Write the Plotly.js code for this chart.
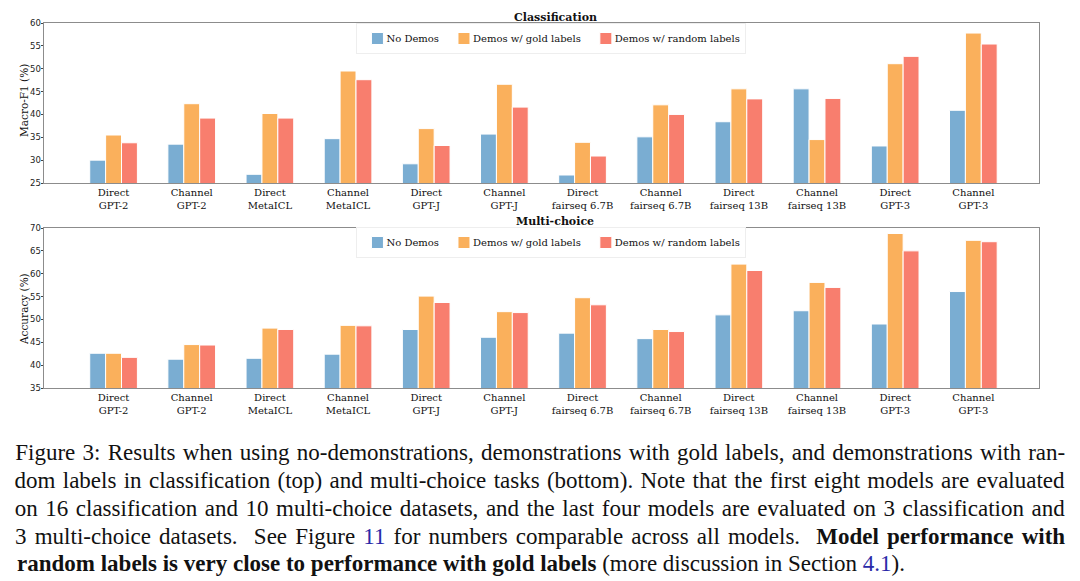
<!DOCTYPE html>
<html>
<head>
<meta charset="utf-8">
<script src="https://cdn.plot.ly/plotly-3.0.1.min.js"></script>
<style>
  html, body { margin: 0; padding: 0; background: #fff; }
  #chart { width: 1080px; height: 581px; }
</style>
</head>
<body>
<div id="chart"></div>
<script>
// ---------- data ----------
const categories = [
  "Direct<br>GPT-2", "Channel<br>GPT-2", "Direct<br>MetaICL", "Channel<br>MetaICL",
  "Direct<br>GPT-J", "Channel<br>GPT-J", "Direct<br>fairseq 6.7B", "Channel<br>fairseq 6.7B",
  "Direct<br>fairseq 13B", "Channel<br>fairseq 13B", "Direct<br>GPT-3", "Channel<br>GPT-3"
];
const seriesNames = ["No Demos", "Demos w/ gold labels", "Demos w/ random labels"];

// Classification (Macro-F1 %)
const clsNoDemos = [30.0, 33.5, 26.9, 34.7, 29.2, 35.7, 26.75, 35.1, 38.4, 45.6, 33.1, 40.9];
const clsGold    = [35.5, 42.35, 40.2, 49.5, 36.9, 46.6, 33.9, 42.1, 45.6, 34.5, 51.1, 57.8];
const clsRandom  = [33.8, 39.2, 39.2, 47.6, 33.2, 41.6, 30.9, 40.0, 43.4, 43.5, 52.7, 55.4];

// Multi-choice (Accuracy %)
const mcNoDemos = [42.6, 41.3, 41.5, 42.4, 47.8, 46.1, 47.0, 45.8, 51.0, 51.9, 49.0, 56.1];
const mcGold    = [42.6, 44.5, 48.1, 48.7, 55.1, 51.7, 54.75, 47.8, 62.1, 58.1, 68.8, 67.3];
const mcRandom  = [41.7, 44.4, 47.8, 48.6, 53.7, 51.5, 53.2, 47.35, 60.7, 57.0, 65.0, 67.0];

const panelTitles = ["Classification", "Multi-choice"];
const yTitles = ["Macro-F1 (%)", "Accuracy (%)"];

const captionLines = [
  "Figure 3: Results when using no-demonstrations, demonstrations with gold labels, and demonstrations with ran-",
  "dom labels in classification (top) and multi-choice tasks (bottom). Note that the first eight models are evaluated",
  "on 16 classification and 10 multi-choice datasets, and the last four models are evaluated on 3 classification and",
  "3 multi-choice datasets.  See Figure <span style=\"color:#2a2aa8\">11</span> for numbers comparable across all models.  <b>Model performance with</b>",
  "<b>random labels is very close to performance with gold labels</b> (more discussion in Section <span style=\"color:#2a2aa8\">4.1</span>)."
];

// ---------- style ----------
const colors = ["#7aadd2", "#fab05c", "#f87e6e"];
const W = 1080, H = 581;
const M = {l: 44, r: 41, t: 23, b: 193};
const plotH = H - M.t - M.b;
const plotW = W - M.l - M.r;
const py = p => 1 - (p - M.t) / plotH;   // pixel row -> paper y
const px = p => (p - M.l) / plotW;       // pixel column -> paper x

function bars(vals, i, xa, ya, legendId) {
  return {
    type: "bar", x: categories, y: vals, name: seriesNames[i],
    xaxis: xa, yaxis: ya, legend: legendId,
    marker: {color: colors[i], line: {color: "#ffffff", width: 1}},
    hoverinfo: "skip"
  };
}

const data = [
  bars(clsNoDemos, 0, "x", "y", "legend"),
  bars(clsGold, 1, "x", "y", "legend"),
  bars(clsRandom, 2, "x", "y", "legend"),
  bars(mcNoDemos, 0, "x2", "y2", "legend2"),
  bars(mcGold, 1, "x2", "y2", "legend2"),
  bars(mcRandom, 2, "x2", "y2", "legend2")
];

const frame = {
  showline: true, mirror: true, linecolor: "#8c8c8c", linewidth: 1,
  showgrid: false, zeroline: false
};
function xAxis(anchor) {
  return Object.assign({}, frame, {
    anchor: anchor, domain: [0, 1], type: "category", range: [-0.89, 11.84],
    ticks: "", tickfont: {family: "DejaVu Serif", size: 10, color: "#111"}
  });
}
function yAxis(anchor, domain, range) {
  return Object.assign({}, frame, {
    anchor: anchor, domain: domain, range: range, dtick: 5,
    ticks: "outside", ticklen: 2.5, tickcolor: "#444", tickwidth: 1,
    ticklabelstandoff: -2,
    tickfont: {family: "DejaVu Sans", size: 8.5, color: "#222"}
  });
}
const legendBase = {
  orientation: "h", xanchor: "center", x: 0.51, yanchor: "top",
  font: {family: "DejaVu Serif", size: 10, color: "#111"},
  bgcolor: "rgba(255,255,255,0.85)", bordercolor: "#eeeeee", borderwidth: 1,
  itemwidth: 30, tracegroupgap: 0
};

const annotations = [];
[[17, 0], [221, 1]].forEach(([row, i]) => {
  annotations.push({text: "<b>" + panelTitles[i] + "</b>", xref: "paper", yref: "paper",
    x: px(555), y: py(row), xanchor: "center", yanchor: "middle", showarrow: false,
    font: {family: "DejaVu Serif", size: 11, color: "#111"}});
});
[[101, 0], [309, 1]].forEach(([row, i]) => {
  annotations.push({text: yTitles[i], xref: "paper", yref: "paper", textangle: -90,
    x: px(24), y: py(row), xanchor: "center", yanchor: "middle", showarrow: false,
    font: {family: "DejaVu Serif", size: 10.5, color: "#111"}});
});
const capRows = [452, 480, 508, 536, 563];
captionLines.forEach((t, i) => {
  const justified = i < 4;
  annotations.push({
    text: t, xref: "paper", yref: "paper",
    x: justified ? px(540) : px(15),
    y: py(capRows[i]), xanchor: justified ? "center" : "left", yanchor: "middle",
    showarrow: false, font: {family: "Liberation Serif", size: 23, color: "#111"}
  });
});

const layout = {
  width: W, height: H, margin: M,
  paper_bgcolor: "#ffffff", plot_bgcolor: "#ffffff",
  barmode: "group", bargap: 0.39, bargroupgap: 0,
  showlegend: true,
  xaxis: xAxis("y"),
  yaxis: yAxis("x", [1 - 160 / plotH, 1], [25, 60]),
  xaxis2: xAxis("y2"),
  yaxis2: yAxis("x2", [0, 160 / plotH], [35, 70]),
  legend: Object.assign({}, legendBase, {y: py(23)}),
  legend2: Object.assign({}, legendBase, {y: py(227)}),
  annotations: annotations
};

function parseT(s) {
  const m = /translate\(\s*([-\d.e]+)[\s,]*([-\d.e]*)\s*\)/.exec(s || "");
  return m ? [parseFloat(m[1]), parseFloat(m[2] || 0)] : null;
}
// remember an element's original attribute the first time, so repeated passes stay idempotent
function orig(el, attr) {
  const key = "data-orig-" + attr;
  if (!el.hasAttribute(key)) el.setAttribute(key, el.getAttribute(attr) || "");
  return el.getAttribute(key);
}

function finish() {
  // justify the first four caption lines to the full text width (15px .. 1065px)
  const plain = captionLines.map(s => s.replace(/<[^>]+>/g, ""));
  document.querySelectorAll(".annotation-text").forEach(el => {
    const tc = el.textContent;
    const idx = plain.indexOf(tc);
    if (idx >= 0 && idx < 4) {
      el.style.wordSpacing = "0px";
      const len = el.getComputedTextLength();
      const spaces = (tc.match(/ /g) || []).length;
      el.style.wordSpacing = ((1050 - len) / spaces) + "px";
    }
  });
  // tighten legends: smaller gap between swatch and label (matplotlib-like)
  const cut = 11;
  document.querySelectorAll("g.legend, g.legend2").forEach(lg => {
    const traces = lg.querySelectorAll("g.traces");
    if (!traces.length) return;
    traces.forEach((tr, i) => {
      tr.querySelectorAll("text").forEach(t => t.setAttribute("transform", "translate(" + (-cut) + ",0)"));
      const p = parseT(orig(tr, "transform"));
      if (p) tr.setAttribute("transform", "translate(" + (p[0] - cut * i) + "," + p[1] + ")");
    });
    const total = cut * traces.length;
    const bg = lg.querySelector("rect.bg");
    if (bg) {
      const w = parseFloat(orig(bg, "width"));
      if (!isNaN(w)) bg.setAttribute("width", w - total);
    }
    const p = parseT(orig(lg, "transform"));
    if (p) lg.setAttribute("transform", "translate(" + (p[0] + total / 2) + "," + p[1] + ")");
  });
}

Plotly.newPlot("chart", data, layout, {displayModeBar: false, staticPlot: true}).then(() => {
  finish();
  setTimeout(finish, 60);
  setTimeout(finish, 300);
});
</script>
</body>
</html>
